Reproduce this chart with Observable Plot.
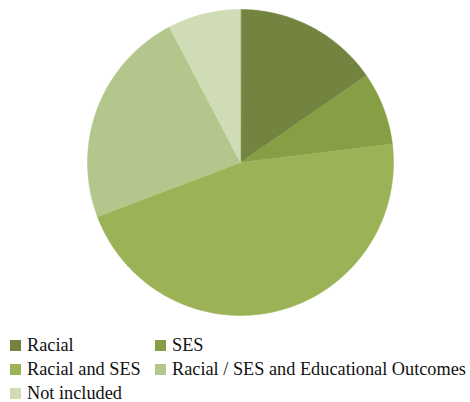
<!DOCTYPE html>
<html>
<head>
<meta charset="utf-8">
<script src="https://cdn.jsdelivr.net/npm/d3@7"></script>
<script src="https://cdn.jsdelivr.net/npm/@observablehq/plot@0.6"></script>
<style>
  body { margin: 0; background: #fff; }
  #chart svg { display: block; }
  .legend { display: grid; grid-template-columns: 145px auto; margin-top: 8px; padding-left: 10px; font-family: "Liberation Serif", "Times New Roman", serif; font-size: 18.3px; color: #111; }
  .item { display: flex; align-items: center; height: 24px; white-space: nowrap; }
  .sw { width: 11px; height: 11px; margin-right: 6px; flex: none; }
</style>
</head>
<body>
<div id="chart"></div>
<script>
const categories = ["Racial", "SES", "Racial and SES", "Racial / SES and Educational Outcomes", "Not included"];
const counts = [2, 1, 6, 3, 1];
const colors = ["#72843f", "#869f45", "#9bb256", "#b3c78c", "#d0dcb6"];

const data = categories.map((c, i) => ({ category: c, value: counts[i] }));
const arcs = d3.pie().sort(null).value(d => d.value)(data);

// build polygon points for each slice from pie angles
const pts = [];
for (const a of arcs) {
  const cat = a.data.category;
  pts.push({ category: cat, x: 0, y: 0 });
  const n = Math.max(2, Math.ceil((a.endAngle - a.startAngle) / (Math.PI / 180)));
  for (let k = 0; k <= n; k++) {
    const t = a.startAngle + (a.endAngle - a.startAngle) * k / n;
    pts.push({ category: cat, x: Math.sin(t), y: Math.cos(t) });
  }
}

const W = 470, H = 325, cx = 240, cy = 162, R = 153;
const chart = Plot.plot({
  width: W,
  height: H,
  margin: 0,
  x: { domain: [-cx / R, (W - cx) / R], range: [0, W], axis: null },
  y: { domain: [-(H - cy) / R, cy / R], range: [H, 0], axis: null },
  color: { domain: categories, range: colors },
  marks: [
    Plot.line(pts, { x: "x", y: "y", z: "category", fill: "category", stroke: "category", strokeWidth: 0.5, curve: "linear-closed" })
  ]
});
document.getElementById("chart").appendChild(chart);

const legend = document.createElement("div");
legend.className = "legend";
categories.forEach((c, i) => {
  const it = document.createElement("div");
  it.className = "item";
  const sw = document.createElement("span");
  sw.className = "sw";
  sw.style.background = colors[i];
  it.appendChild(sw);
  it.appendChild(document.createTextNode(c));
  legend.appendChild(it);
});
document.body.appendChild(legend);
</script>
</body>
</html>
